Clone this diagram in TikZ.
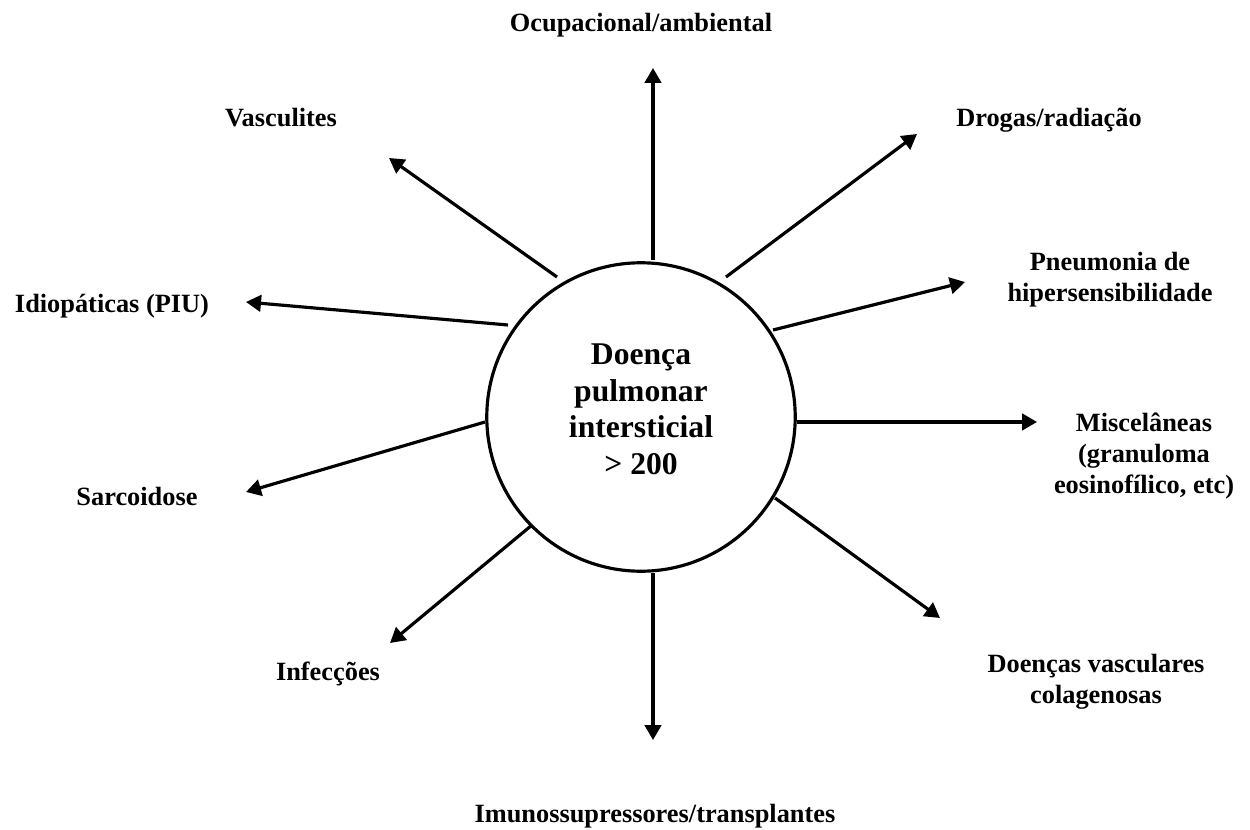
\documentclass[tikz,border=0pt]{standalone}
\usepackage{fontspec}
\setmainfont{Liberation Serif}
\usetikzlibrary{arrows.meta}

\begin{document}
\begin{tikzpicture}[x=0.02cm, y=-0.02cm,
          lbl/.style={font=\fontsize{15}{17.5}\selectfont\bfseries,
                      align=center, inner sep=0pt},
          hub/.style={circle, draw, line width=1.8pt, minimum size=6.17cm,
                      inner sep=0pt, align=center,
                      font=\fontsize{18}{20.8}\selectfont\bfseries},
          arr/.style={-{Triangle[length=0.3cm, width=0.33cm]}, line width=1.8pt}
        ]
        \useasboundingbox (0,0) rectangle (1250,830);

        \node[hub] (dpi) at (641,417)
              {Doença\\pulmonar\\intersticial\\> 200\rule[-9pt]{0pt}{9pt}};

        \node[lbl, anchor=base] (ocup) at (641,32)  {Ocupacional/ambiental};
        \node[lbl, anchor=base] (vasc) at (281,127) {Vasculites};
        \node[lbl, anchor=base] (drog) at (1049,127) {Drogas/radiação};
        \node[lbl, anchor=base] (idio) at (112,313) {Idiopáticas (PIU)};
        \node[lbl, anchor=base] (sarc) at (137,506) {Sarcoidose};
        \node[lbl, anchor=base] (infe) at (328,680) {Infecções};
        \node[lbl, anchor=base] (imun) at (655,822) {Imunossupressores/transplantes};
        \node[lbl] (pneu) at (1110,280) {Pneumonia de\\hipersensibilidade};
        \node[lbl] (misc) at (1144,456)
              {Miscelâneas\\(granuloma\\eosinofílico, etc)};
        \node[lbl] (colg) at (1096,682) {Doenças vasculares\\colagenosas};

        % ends of the spokes
        \coordinate (ocupA) at (653,260);  \coordinate (ocupB) at (653,68);
        \coordinate (vascA) at (557,277);  \coordinate (vascB) at (389,158);
        \coordinate (idioA) at (508,325);  \coordinate (idioB) at (246,302);
        \coordinate (sarcA) at (485,422);  \coordinate (sarcB) at (246,492);
        \coordinate (infeA) at (532,525);  \coordinate (infeB) at (390,643);
        \coordinate (imunA) at (653,573);  \coordinate (imunB) at (653,740);
        \coordinate (colgA) at (775,498);  \coordinate (colgB) at (940,618);
        \coordinate (miscA) at (797,422);  \coordinate (miscB) at (1037,422);
        \coordinate (pneuA) at (773,330);  \coordinate (pneuB) at (965,282);
        \coordinate (drogA) at (726,277);  \coordinate (drogB) at (917,134);

        \draw[arr] (ocupA) -- (ocupB);
        \draw[arr] (vascA) -- (vascB);
        \draw[arr] (idioA) -- (idioB);
        \draw[arr] (sarcA) -- (sarcB);
        \draw[arr] (infeA) -- (infeB);
        \draw[arr] (imunA) -- (imunB);
        \draw[arr] (colgA) -- (colgB);
        \draw[arr] (miscA) -- (miscB);
        \draw[arr] (pneuA) -- (pneuB);
        \draw[arr] (drogA) -- (drogB);
      \end{tikzpicture}
\end{document}
